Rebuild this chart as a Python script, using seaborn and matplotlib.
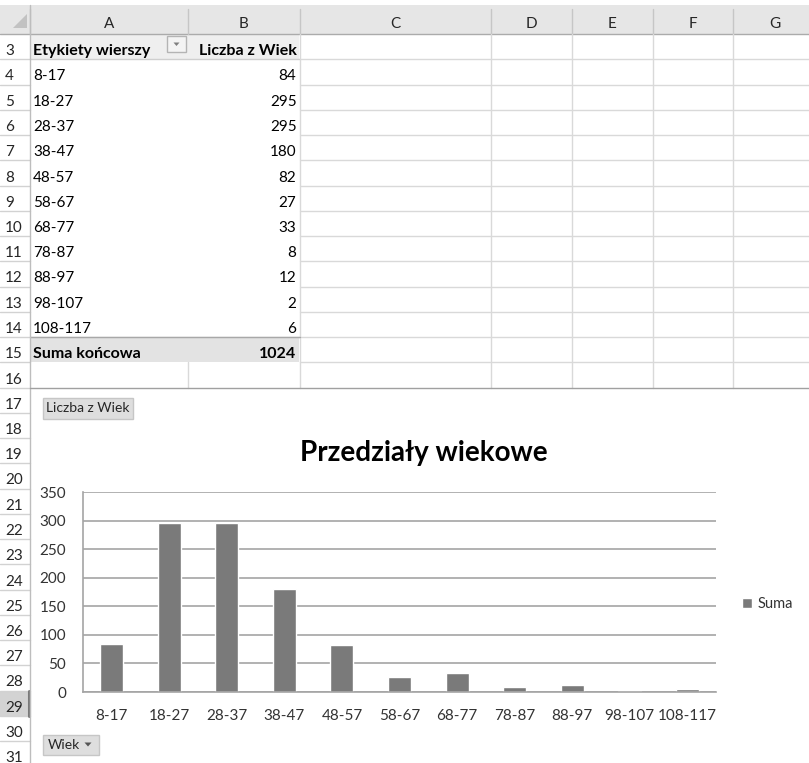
"""
Odtworzenie zrzutu arkusza: tabela przestawna + wykres "Przedziały wiekowe".
"""

# ================== IMPORTY ================== #
import matplotlib
matplotlib.use("Agg")
import matplotlib.pyplot as plt
import matplotlib.patches as mpatches
import seaborn as sns

# ================== DANE ================== #
przedzialy = ["8-17", "18-27", "28-37", "38-47", "48-57", "58-67",
              "68-77", "78-87", "88-97", "98-107", "108-117"]
liczba = [84, 295, 295, 180, 82, 27, 33, 8, 12, 2, 6]
suma_koncowa = 1024
kolumny = ["A", "B", "C", "D", "E", "F", "G"]
wiersze = list(range(3, 32))
y_ticks = [0, 50, 100, 150, 200, 250, 300, 350]

# ================== GEOMETRIA ARKUSZA (px) ================== #
W, H = 809, 763
col_edges = [30, 188, 300, 491, 572, 653, 733, 817]
row_h = 25.25
header_top, header_bot = 5, 34
chart_top = header_bot + 14 * row_h   # wykres zaczyna się w wierszu 17
base_off = 4                          # tekst wyrównany do dołu komórki

def row_top(r):
    return header_bot + (r - 3) * row_h

GRID = "#d9d9d9"
TXT = "#000000"
FS = 11

sns.set_style("white")
plt.rcParams["font.family"] = ["Lato", "DejaVu Sans"]

fig = plt.figure(figsize=(W / 100, H / 100), dpi=100)
bg = fig.add_axes([0, 0, 1, 1])
bg.set_xlim(0, W)
bg.set_ylim(H, 0)
bg.axis("off")

# ---- nagłówek kolumn ---- #
bg.add_patch(mpatches.Rectangle((0, header_top), W, header_bot - header_top,
                                facecolor="#e6e6e6", edgecolor="none"))
bg.plot([0, W], [header_bot, header_bot], color="#ababab", lw=1)
for x in col_edges:
    bg.plot([x, x], [header_top + 4, header_bot], color="#c6c6c6", lw=1)
for i, k in enumerate(kolumny):
    xc = (col_edges[i] + col_edges[i + 1]) / 2
    bg.text(xc, header_bot - 5.5, k, ha="center", va="baseline", fontsize=FS, color="#262626")
# trójkąt "zaznacz wszystko"
bg.add_patch(mpatches.Polygon([[13, 28], [27, 28], [27, 14]], closed=True,
                              facecolor="#c2c2c2", edgecolor="none"))

# ---- siatka komórek (wiersze 3-16) ---- #
pivot_right = col_edges[2]
for r in range(3, 16):
    y = row_top(r + 1)
    x0 = pivot_right if r != 14 else col_edges[0]
    if r == 3:
        bg.plot([col_edges[0], pivot_right], [y, y], color="#cfcfcf", lw=1)
    bg.plot([x0, W], [y, y], color=GRID, lw=1)
for x in col_edges[2:]:
    bg.plot([x, x], [header_bot, chart_top], color=GRID, lw=1)
bg.plot([col_edges[1], col_edges[1]], [row_top(16), chart_top], color=GRID, lw=1)

# wiersz 3 (nagłówek tabeli) i wiersz 15 (suma końcowa)
bg.add_patch(mpatches.Rectangle((col_edges[0] + 1, row_top(3) + 0.5), pivot_right - col_edges[0] - 1.5,
                                row_h - 1, facecolor="#efefef", edgecolor="none"))
bg.add_patch(mpatches.Rectangle((col_edges[0] + 1, row_top(15)), pivot_right - col_edges[0] - 1.5,
                                row_h, facecolor="#e3e3e3", edgecolor="none"))
bg.plot([col_edges[0], pivot_right], [row_top(15), row_top(15)], color="#a8a8a8", lw=1)

# ---- kolumna numerów wierszy ---- #
for r in wiersze:
    y = row_top(r + 1)
    bg.plot([0, col_edges[0]], [y, y], color="#d2d2d2", lw=1)
bg.add_patch(mpatches.Rectangle((0, row_top(29)), 28, row_h,
                                facecolor="#d3d3d3", edgecolor="none"))
bg.plot([29, 29], [row_top(29), row_top(30)], color="#7a7a7a", lw=2.2)
bg.plot([col_edges[0], col_edges[0]], [header_top, H], color="#bdbdbd", lw=1)
for r in wiersze:
    bg.text(5, row_top(r + 1) - base_off, str(r), ha="left", va="baseline",
            fontsize=FS, color="#262626")

# ---- treść tabeli przestawnej ---- #
xa = col_edges[0] + 3
xb = pivot_right - 3.5
bg.text(xa, row_top(4) - base_off, "Etykiety wierszy", ha="left", va="baseline",
        fontsize=FS + 0.5, fontweight="bold", color=TXT)
bg.text(xb, row_top(4) - base_off, "Liczba z Wiek", ha="right", va="baseline",
        fontsize=FS + 0.5, fontweight="bold", color=TXT)
# przycisk filtra
bg.add_patch(mpatches.Rectangle((167, 36), 19, 16, facecolor="#f4f4f4", edgecolor="#b4b4b4", lw=1))
bg.add_patch(mpatches.Polygon([[173.5, 42.5], [179.5, 42.5], [176.5, 46]], closed=True,
                              facecolor="#7f7f7f", edgecolor="none"))
for i, (p, n) in enumerate(zip(przedzialy, liczba)):
    yb = row_top(5 + i) - base_off
    bg.text(xa, yb, p, ha="left", va="baseline", fontsize=FS, color=TXT)
    bg.text(xb, yb, str(n), ha="right", va="baseline", fontsize=FS, color=TXT)
bg.text(xa, row_top(16) - base_off, "Suma końcowa", ha="left", va="baseline",
        fontsize=FS + 0.5, fontweight="bold", color=TXT)
bg.text(xb, row_top(16) - base_off, str(suma_koncowa), ha="right", va="baseline",
        fontsize=FS + 0.5, fontweight="bold", color=TXT)

# ---- obszar wykresu ---- #
bg.add_patch(mpatches.Rectangle((col_edges[0] + 0.5, chart_top), W, H - chart_top,
                                facecolor="white", edgecolor="none"))
bg.plot([col_edges[0], W], [chart_top, chart_top], color="#a0a0a0", lw=1)

# przyciski pól wykresu przestawnego
bg.add_patch(mpatches.Rectangle((43, 398), 90, 20.5, facecolor="#dedede", edgecolor="#c6c6c6", lw=1))
bg.text(88, 408.5, "Liczba z Wiek", ha="center", va="center", fontsize=10, color="#262626")
bg.add_patch(mpatches.Rectangle((43, 734.5), 56, 20.5, facecolor="#dedede", edgecolor="#c6c6c6", lw=1))
bg.text(48, 745, "Wiek", ha="left", va="center", fontsize=10, color="#262626")
bg.add_patch(mpatches.Polygon([[84.5, 742.5], [91.5, 742.5], [88, 746.5]], closed=True,
                              facecolor="#555555", edgecolor="none"))

# ================== WYKRES ================== #
ax_l, ax_r, ax_t, ax_b = 83, 716, 492, 692
ax = fig.add_axes([ax_l / W, (H - ax_b) / H, (ax_r - ax_l) / W, (ax_b - ax_t) / H])
ax.set_facecolor("none")
sns.barplot(x=przedzialy, y=liczba, color="#7a7a7a", saturation=1, width=0.4,
            label="Suma", ax=ax)
ax.set_xlim(-0.5, len(przedzialy) - 0.5)
ax.set_ylim(0, 350)
ax.set_yticks(y_ticks)
ax.set_xlabel("")
ax.set_ylabel("")
ax.yaxis.grid(True, color="#ababab", lw=1.3)
ax.set_axisbelow(True)
for s in ["top", "right"]:
    ax.spines[s].set_visible(False)
for s in ["left", "bottom"]:
    ax.spines[s].set_color("#a4a4a4")
    ax.spines[s].set_linewidth(1.2)
ax.set_xticks([i - 0.5 for i in range(len(przedzialy) + 1)], minor=True)
ax.tick_params(axis="x", which="major", length=0, pad=12, labelsize=11, labelcolor="#333333")
ax.tick_params(axis="x", which="minor", length=5, width=1.2, color="#a4a4a4", direction="out")
ax.tick_params(axis="y", length=5, width=1.2, color="#a4a4a4", direction="out", pad=7,
               labelsize=11, labelcolor="#333333")

h, l = ax.get_legend_handles_labels()
ax.legend(h, l, loc="center left", bbox_to_anchor=(742 / W, 1 - 604 / H),
          bbox_transform=fig.transFigure, frameon=False, handlelength=0.7,
          handleheight=0.7, handletextpad=0.35, fontsize=10.5, borderpad=0,
          borderaxespad=0, labelcolor="#333333")

fig.text(424 / W, 1 - 453 / H, "Przedziały wiekowe", ha="center", va="center",
         fontsize=20, fontweight="bold", color="#000000")

fig.savefig("out.png", dpi=100)
